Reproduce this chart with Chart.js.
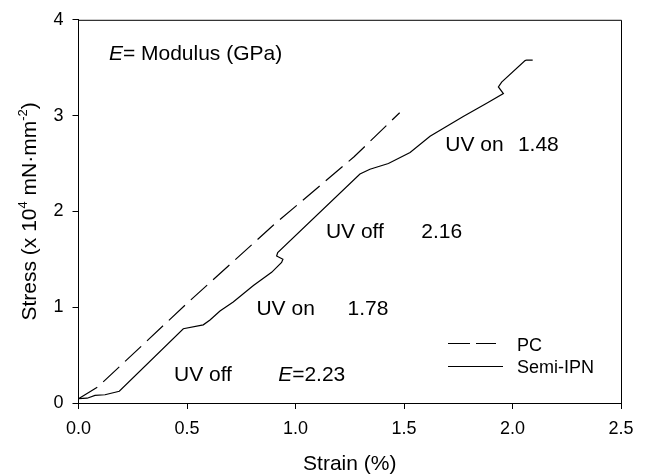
<!DOCTYPE html>
<html>
<head>
<meta charset="utf-8">
<script src="https://cdn.jsdelivr.net/npm/chart.js@4"></script>
<style>
html,body{margin:0;padding:0;background:#fff;}
#wrap{width:650px;height:476px;position:relative;}
</style>
</head>
<body>
<div id="wrap"><canvas id="c" width="650" height="476"></canvas></div>
<script>
// ---- data ----
const pcStrain = [0, 0.09, 0.5, 0.9, 1.27, 1.48];
const pcStress = [0.045, 0.17, 1.04, 1.86, 2.57, 3.03];

const ipnStrain = [0, 0.04, 0.076, 0.122, 0.188, 0.483, 0.575, 0.606, 0.652, 0.713, 0.806, 0.89, 0.936, 0.942, 0.913, 0.918, 1.297, 1.343, 1.428, 1.528, 1.62, 1.773, 1.881, 1.958, 1.935, 1.95, 2.058, 2.065, 2.093];
const ipnStress = [0.045, 0.05, 0.079, 0.086, 0.123, 0.775, 0.816, 0.867, 0.96, 1.055, 1.227, 1.364, 1.467, 1.50, 1.535, 1.57, 2.39, 2.44, 2.50, 2.615, 2.785, 2.99, 3.128, 3.23, 3.30, 3.35, 3.574, 3.58, 3.58];

const xTicks = [0, 0.5, 1.0, 1.5, 2.0, 2.5];
const yTicks = [0, 1, 2, 3, 4];

const seriesNames = ['PC', 'Semi-IPN'];
const annotations = [
  {parts: [{t: 'E', i: true}, {t: '= Modulus (GPa)'}], x: 0.14, y: 3.58},
  {parts: [{t: 'UV off'}], x: 0.44, y: 0.23},
  {parts: [{t: 'E', i: true}, {t: '=2.23'}], x: 0.92, y: 0.23},
  {parts: [{t: 'UV on'}], x: 0.82, y: 0.92},
  {parts: [{t: '1.78'}], x: 1.24, y: 0.92},
  {parts: [{t: 'UV off'}], x: 1.14, y: 1.72},
  {parts: [{t: '2.16'}], x: 1.58, y: 1.72},
  {parts: [{t: 'UV on'}], x: 1.69, y: 2.63},
  {parts: [{t: '1.48'}], x: 2.025, y: 2.63}
];

const FONT = '"Liberation Sans", Arial, Helvetica, sans-serif';

function toPts(xs, ys){ return xs.map((x,i)=>({x:x, y:ys[i]})); }

const overlay = {
  id: 'overlay',
  afterDraw(chart){
    const ctx = chart.ctx;
    const a = chart.chartArea;
    const xs = chart.scales.x, ys = chart.scales.y;
    ctx.save();
    // top & right border
    ctx.strokeStyle = '#000';
    ctx.lineWidth = 1;
    ctx.beginPath();
    ctx.moveTo(a.left, a.top + 0.5);
    ctx.lineTo(a.right + 0.5, a.top + 0.5);
    ctx.lineTo(a.right + 0.5, a.bottom);
    ctx.stroke();

    // annotations
    ctx.fillStyle = '#000';
    ctx.textBaseline = 'alphabetic';
    ctx.textAlign = 'left';
    annotations.forEach(an => {
      let px = xs.getPixelForValue(an.x);
      const py = ys.getPixelForValue(an.y);
      an.parts.forEach(p => {
        ctx.font = (p.i ? 'italic ' : '') + '21px ' + FONT;
        ctx.fillText(p.t, px, py);
        px += ctx.measureText(p.t).width;
      });
    });

    // legend
    ctx.font = '18px ' + FONT;
    ctx.lineWidth = 1.2;
    ctx.setLineDash([22, 6]);
    ctx.beginPath(); ctx.moveTo(448, 343.5); ctx.lineTo(496, 343.5); ctx.stroke();
    ctx.setLineDash([]);
    ctx.beginPath(); ctx.moveTo(448, 366.5); ctx.lineTo(503, 366.5); ctx.stroke();
    ctx.fillText(seriesNames[0], 517, 351);
    ctx.fillText(seriesNames[1], 517, 373);

    // x title
    ctx.font = '21px ' + FONT;
    ctx.textAlign = 'center';
    ctx.fillText('Strain (%)', (a.left + a.right) / 2, 470);

    // y title with superscripts
    const segs = [
      {t: 'Stress (x 10', s: false},
      {t: '4', s: true},
      {t: ' mN\u00B7mm', s: false},
      {t: '-2', s: true},
      {t: ')', s: false}
    ];
    const fs = 21, sfs = 13;
    let total = 0;
    segs.forEach(sg => { ctx.font = (sg.s ? sfs : fs) + 'px ' + FONT; sg.w = ctx.measureText(sg.t).width; total += sg.w; });
    ctx.translate(36, (a.top + a.bottom) / 2);
    ctx.rotate(-Math.PI / 2);
    ctx.textAlign = 'left';
    let cx = -total / 2;
    segs.forEach(sg => {
      ctx.font = (sg.s ? sfs : fs) + 'px ' + FONT;
      ctx.fillText(sg.t, cx, sg.s ? -9 : 0);
      cx += sg.w;
    });
    ctx.restore();
  }
};

new Chart(document.getElementById('c'), {
  type: 'scatter',
  data: {
    datasets: [
      {
        label: seriesNames[0],
        data: toPts(pcStrain, pcStress),
        showLine: true,
        borderColor: '#000',
        borderWidth: 1.2,
        borderDash: [22, 8],
        pointRadius: 0,
        tension: 0,
        fill: false
      },
      {
        label: seriesNames[1],
        data: toPts(ipnStrain, ipnStress),
        showLine: true,
        borderColor: '#000',
        borderWidth: 1.2,
        pointRadius: 0,
        tension: 0,
        fill: false
      }
    ]
  },
  options: {
    responsive: false,
    animation: false,
    layout: {padding: {top: 13.5, right: 29, left: 0, bottom: 0}},
    plugins: {legend: {display: false}, tooltip: {enabled: false}},
    scales: {
      x: {
        type: 'linear',
        min: 0, max: 2.5,
        afterBuildTicks: s => { s.ticks = xTicks.map(v => ({value: v})); },
        afterFit: s => { s.height = 73; },
        ticks: {
          color: '#000',
          font: {family: FONT, size: 18},
          padding: 9,
          maxRotation: 0,
          callback: v => Number(v).toFixed(1)
        },
        grid: {display: true, drawOnChartArea: false, drawTicks: true, tickLength: 6, color: '#000', lineWidth: 1},
        border: {display: true, color: '#000', width: 1}
      },
      y: {
        type: 'linear',
        min: 0, max: 4,
        afterBuildTicks: s => { s.ticks = yTicks.map(v => ({value: v})); },
        afterFit: s => { s.width = 78.5; },
        ticks: {
          color: '#000',
          font: {family: FONT, size: 18},
          padding: 9,
          callback: v => String(v)
        },
        grid: {display: true, drawOnChartArea: false, drawTicks: true, tickLength: 6, color: '#000', lineWidth: 1},
        border: {display: true, color: '#000', width: 1}
      }
    }
  },
  plugins: [overlay]
});
</script>
</body>
</html>
